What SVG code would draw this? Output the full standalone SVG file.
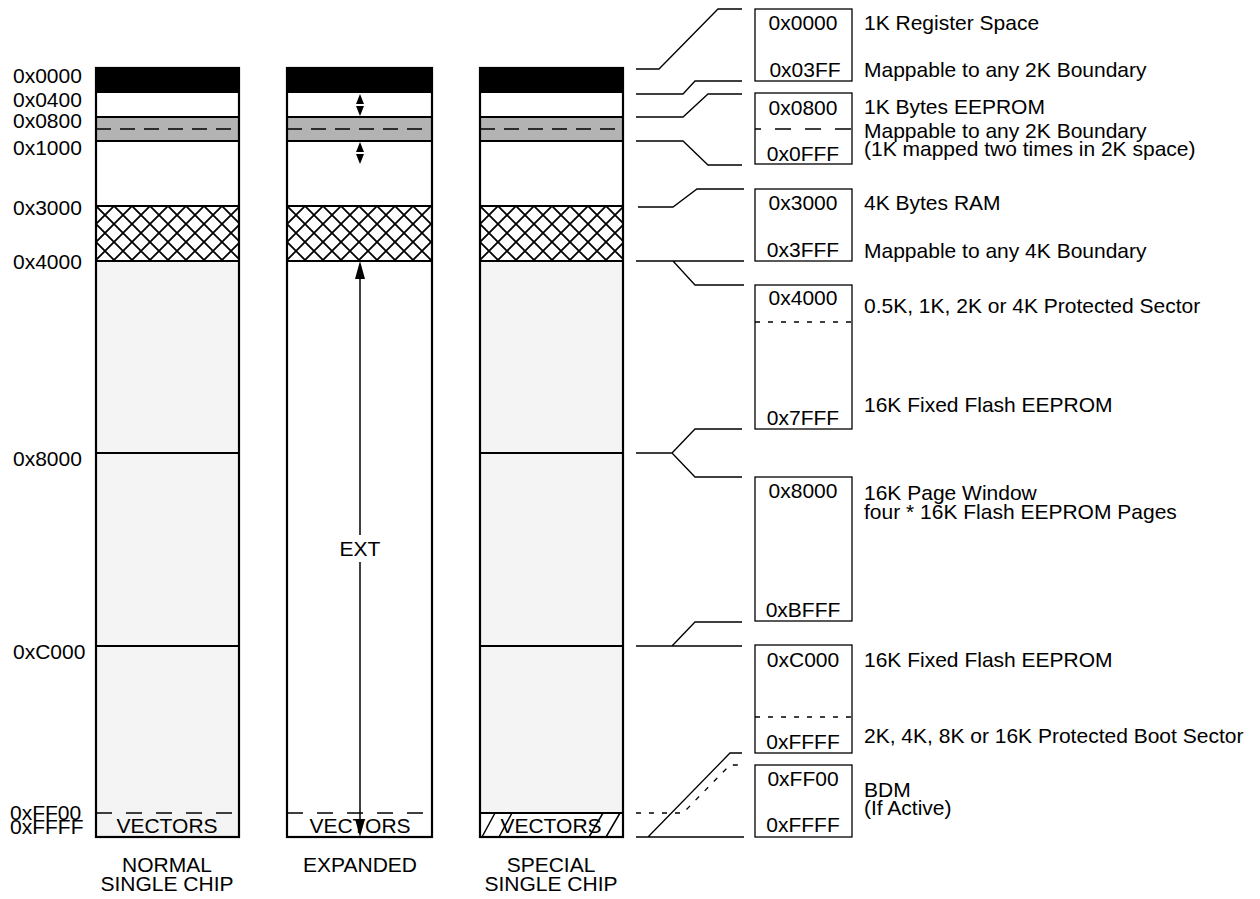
<svg xmlns="http://www.w3.org/2000/svg" width="1260" height="899" viewBox="0 0 1260 899">
<style>
text{font-family:"Liberation Sans",Arial,sans-serif;font-size:21px;fill:#000}
.m{text-anchor:middle}
.outline{fill:none;stroke:#000;stroke-width:2.2}
.row{stroke:#000;stroke-width:2;fill:none}
.dash{stroke:#000;stroke-width:1.6;stroke-dasharray:15 9;fill:none}
.conn{fill:none;stroke:#000;stroke-width:1.3}
.dot{fill:none;stroke:#000;stroke-width:1.3;stroke-dasharray:5 8}
.box{fill:#fff;stroke:#000;stroke-width:1.3}
.lg{fill:#f4f4f4}
.blk{fill:#000}
.gry{fill:#b3b3b3}
</style>
<defs>
<pattern id="xh1" patternUnits="userSpaceOnUse" x="96" y="206" width="18" height="18">
<rect width="18" height="18" fill="#fff"/>
<path d="M-1,-1L19,19M19,-1L-1,19" stroke="#000" stroke-width="1.8"/>
</pattern>
<pattern id="xh2" patternUnits="userSpaceOnUse" x="287" y="206" width="18" height="18">
<rect width="18" height="18" fill="#fff"/>
<path d="M-1,-1L19,19M19,-1L-1,19" stroke="#000" stroke-width="1.8"/>
</pattern>
<pattern id="xh3" patternUnits="userSpaceOnUse" x="480" y="206" width="18" height="18">
<rect width="18" height="18" fill="#fff"/>
<path d="M-1,-1L19,19M19,-1L-1,19" stroke="#000" stroke-width="1.8"/>
</pattern>
</defs>
<rect width="1260" height="899" fill="#fff"/>

<g id="addr-labels">
<text x="13" y="83">0x0000</text>
<text x="13" y="107">0x0400</text>
<text x="13" y="128">0x0800</text>
<text x="13" y="155">0x1000</text>
<text x="13" y="215">0x3000</text>
<text x="13" y="269">0x4000</text>
<text x="13" y="466">0x8000</text>
<text x="13" y="659">0xC000</text>
<text x="10" y="820">0xFF00</text>
<text x="10" y="834">0xFFFF</text>
</g>

<g id="col-normal">
<rect x="96" y="68" width="143" height="769" fill="#fff"/>
<rect class="lg" x="96" y="261" width="143" height="576"/>
<rect class="blk" x="96" y="68" width="143" height="25"/>
<rect class="gry" x="96" y="117" width="143" height="24"/>
<rect x="96" y="206" width="143" height="55" fill="url(#xh1)"/>
<path class="row" d="M96,117H239M96,141H239M96,206H239M96,261H239M96,453H239M96,646H239"/>
<path class="dash" d="M96,129H239"/>
<path class="dash" d="M96,813H239" style="stroke-dasharray:16 14"/>
<text class="m" x="167" y="833">VECTORS</text>
<rect class="outline" x="96" y="68" width="143" height="769"/>
<text class="m" x="167" y="872">NORMAL</text>
<text class="m" x="167" y="891">SINGLE CHIP</text>
</g>

<g id="col-expanded">
<rect x="287" y="68" width="145" height="769" fill="#fff"/>
<rect class="blk" x="287" y="68" width="145" height="25"/>
<rect class="gry" x="287" y="117" width="145" height="24"/>
<rect x="287" y="206" width="145" height="55" fill="url(#xh2)"/>
<path class="row" d="M287,117H432M287,141H432M287,206H432M287,261H432"/>
<path class="dash" d="M287,129H432"/>
<path class="dash" d="M287,813H432" style="stroke-dasharray:16 14"/>
<path d="M360,94L356,104L364,104ZM360,116L356,106L364,106Z" fill="#000"/>
<path d="M360,142L356,152L364,152ZM360,164L356,154L364,154Z" fill="#000"/>
<text class="m" x="360" y="833">VECTORS</text>
<path class="conn" d="M360,277V535M360,562V821" style="stroke-width:1.5"/>
<path d="M360,261L355,279L365,279ZM360,837L355,819L365,819Z" fill="#000"/>
<text class="m" x="360" y="556">EXT</text>
<rect class="outline" x="287" y="68" width="145" height="769"/>
<text class="m" x="360" y="872">EXPANDED</text>
</g>

<g id="col-special">
<rect x="480" y="68" width="143" height="769" fill="#fff"/>
<rect class="lg" x="480" y="261" width="143" height="552"/>
<rect class="blk" x="480" y="68" width="143" height="25"/>
<rect class="gry" x="480" y="117" width="143" height="24"/>
<rect x="480" y="206" width="143" height="55" fill="url(#xh3)"/>
<path class="row" d="M480,117H623M480,141H623M480,206H623M480,261H623M480,453H623M480,646H623M480,813H623"/>
<path class="dash" d="M480,129H623"/>
<path class="conn" d="M482,837L495,813M499,837L512,813M589,837L603,813M606,837L620,813" style="stroke-width:1.5"/>
<text class="m" x="551" y="833">VECTORS</text>
<rect class="outline" x="480" y="68" width="143" height="769"/>
<text class="m" x="551" y="872">SPECIAL</text>
<text class="m" x="551" y="891">SINGLE CHIP</text>
</g>

<g id="connectors">
<path class="conn" d="M636,69H659L718,9H742"/>
<path class="conn" d="M636,94H683L695,81H742"/>
<path class="conn" d="M636,117H683L708,94H742"/>
<path class="conn" d="M636,141H683L708,165H742"/>
<path class="conn" d="M638,207H673L697,189H744"/>
<path class="conn" d="M636,261H744M673,261L695,285H744"/>
<path class="conn" d="M636,453H672L695,429H742M672,453L695,477H742"/>
<path class="conn" d="M636,646H742M672,646L695,622H742"/>
<path class="conn" d="M636,837H744M648,837L730,753H742"/>
<path class="dot" d="M636,813H683L730,765H742"/>
</g>

<g id="box-reg">
<rect class="box" x="755" y="9" width="97" height="72"/>
<text class="m" x="803" y="30">0x0000</text>
<text class="m" x="805" y="77">0x03FF</text>
<text x="864" y="30">1K Register Space</text>
<text x="864" y="77">Mappable to any 2K Boundary</text>
</g>

<g id="box-eeprom">
<rect class="box" x="755" y="93" width="97" height="71"/>
<path d="M755,129H852" stroke="#000" stroke-width="1.3" stroke-dasharray="16 14" stroke-dashoffset="10"/>
<text class="m" x="803" y="115">0x0800</text>
<text class="m" x="803" y="161">0x0FFF</text>
<text x="864" y="114">1K Bytes EEPROM</text>
<text x="864" y="138">Mappable to any 2K Boundary</text>
<text x="864" y="156">(1K mapped two times in 2K space)</text>
</g>

<g id="box-ram">
<rect class="box" x="755" y="189" width="97" height="72"/>
<text class="m" x="803" y="210">0x3000</text>
<text class="m" x="803" y="257">0x3FFF</text>
<text x="864" y="210">4K Bytes RAM</text>
<text x="864" y="258">Mappable to any 4K Boundary</text>
</g>

<g id="box-flash1">
<rect class="box" x="755" y="285" width="97" height="144"/>
<path class="dot" d="M755,322H852"/>
<text class="m" x="803" y="305">0x4000</text>
<text class="m" x="803" y="425">0x7FFF</text>
<text x="864" y="313">0.5K, 1K, 2K or 4K Protected Sector</text>
<text x="864" y="412">16K Fixed Flash EEPROM</text>
</g>

<g id="box-page">
<rect class="box" x="755" y="477" width="97" height="144"/>
<text class="m" x="803" y="498">0x8000</text>
<text class="m" x="803" y="617">0xBFFF</text>
<text x="864" y="500">16K Page Window</text>
<text x="864" y="519">four * 16K Flash EEPROM Pages</text>
</g>

<g id="box-flash2">
<rect class="box" x="755" y="645" width="97" height="108"/>
<path class="dot" d="M755,717H852"/>
<text class="m" x="803" y="667">0xC000</text>
<text class="m" x="803" y="749">0xFFFF</text>
<text x="864" y="667">16K Fixed Flash EEPROM</text>
<text x="864" y="743">2K, 4K, 8K or 16K Protected Boot Sector</text>
</g>

<g id="box-bdm">
<rect class="box" x="755" y="765" width="97" height="72"/>
<text class="m" x="803" y="786">0xFF00</text>
<text class="m" x="803" y="832">0xFFFF</text>
<text x="864" y="797">BDM</text>
<text x="864" y="815">(If Active)</text>
</g>
</svg>
